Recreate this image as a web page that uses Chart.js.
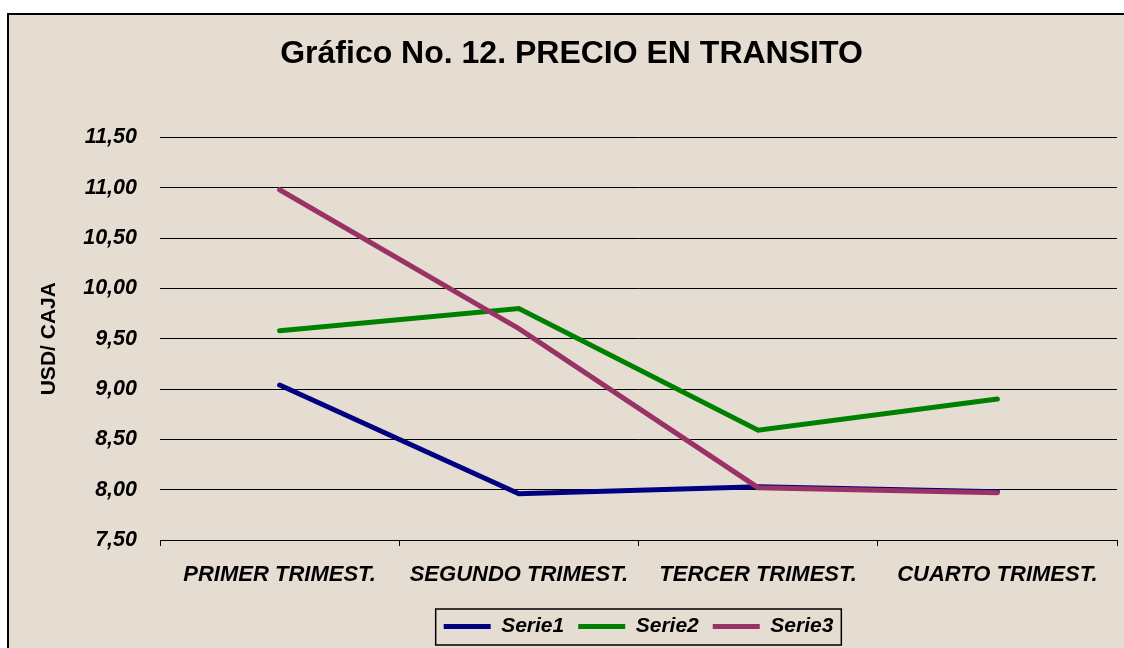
<!DOCTYPE html>
<html>
<head>
<meta charset="utf-8">
<script src="https://cdn.jsdelivr.net/npm/chart.js@4.4.1/dist/chart.umd.min.js"></script>
<style>
  html, body { margin: 0; padding: 0; background: #ffffff; }
  #frame {
    position: absolute; left: 7px; top: 13px; width: 1130px; height: 650px;
    border-left: 2px solid #000; border-top: 2px solid #000;
    background: #e6ddd2;
  }
  #wrap { position: absolute; left: 0; top: 0; width: 1124px; height: 648px; }
</style>
</head>
<body>
<div id="frame"></div>
<div id="wrap"><canvas id="precio"></canvas></div>
<script>
    // Datos (USD por caja)
    var categorias = ["PRIMER TRIMEST.", "SEGUNDO TRIMEST.", "TERCER TRIMEST.", "CUARTO TRIMEST."];
    var serie1 = [9.04, 7.96, 8.03, 7.98];
    var serie2 = [9.58, 9.80, 8.59, 8.90];
    var serie3 = [10.98, 9.60, 8.02, 7.97];
    var yMin = 7.5, yMax = 11.5, yStep = 0.5;

    var fuente = "'Liberation Sans', Arial, sans-serif";
    Chart.defaults.color = "#000000";
    Chart.defaults.font.family = fuente;

    // marco del cuadro de leyenda
    var legendBox = {
        id: "legendBox",
        afterDraw: function (chart) {
            var boxes = chart.legend && chart.legend.legendHitBoxes;
            if (!boxes || !boxes.length) return;
            var l = boxes[0].left, r = boxes[boxes.length - 1].left + boxes[boxes.length - 1].width;
            var t = boxes[0].top, b = boxes[0].top + boxes[0].height;
            var ctx = chart.ctx;
            ctx.save();
            ctx.strokeStyle = "#000";
            ctx.lineWidth = 1.5;
            ctx.strokeRect(l - 8, t - 7, (r - l) + 16, (b - t) + 15);
            ctx.restore();
        }
    };

    var ctx = document.getElementById("precio").getContext("2d");
    var chart = new Chart(ctx, {
        type: "line",
        data: {
            labels: categorias,
            datasets: [{
                label: "Serie1",
                data: serie1,
                borderColor: "#000080",
                backgroundColor: "#000080",
                borderWidth: 5,
                borderCapStyle: "round",
                order: 3
            }, {
                label: "Serie2",
                data: serie2,
                borderColor: "#008000",
                backgroundColor: "#008000",
                borderWidth: 5,
                borderCapStyle: "round",
                order: 2
            }, {
                label: "Serie3",
                data: serie3,
                borderColor: "#993366",
                backgroundColor: "#993366",
                borderWidth: 5,
                borderCapStyle: "round",
                order: 1
            }]
        },
        options: {
            responsive: true,
            maintainAspectRatio: false,
            animation: false,
            elements: {
                line: { tension: 0, borderJoinStyle: "miter" },
                point: { radius: 0, hoverRadius: 0 }
            },
            layout: { padding: { top: 16, left: 26, right: 7, bottom: 1 } },
            plugins: {
                title: {
                    display: true,
                    text: "Gráfico No. 12. PRECIO EN TRANSITO",
                    color: "#000",
                    font: { size: 32, weight: "bold" },
                    padding: { top: 19, bottom: 64 }
                },
                legend: {
                    position: "bottom",
                    fullSize: false,
                    labels: {
                        usePointStyle: true,
                        pointStyle: "line",
                        pointStyleWidth: 47,
                        padding: 14,
                        color: "#000",
                        font: { size: 21, weight: "bold", style: "italic" },
                        sort: function (a, b) { return a.datasetIndex - b.datasetIndex; }
                    }
                },
                tooltip: { enabled: false }
            },
            scales: {
                x: {
                    offset: true,
                    grid: { offset: true, drawOnChartArea: false, drawTicks: true, tickLength: 6, color: "#000" },
                    border: { display: true, color: "#000", width: 1 },
                    ticks: {
                        autoSkip: false, maxRotation: 0, padding: 16, color: "#000",
                        font: { size: 22, weight: "bold", style: "italic" }
                    },
                    afterFit: function (scale) { scale.height = 62; }
                },
                y: {
                    min: yMin,
                    max: yMax,
                    grid: { color: "#000", lineWidth: 1, drawTicks: false },
                    border: { display: false },
                    ticks: {
                        stepSize: yStep, padding: 23, color: "#000",
                        font: { size: 21.5, weight: "bold", style: "italic" },
                        callback: function (v) { return v.toFixed(2).replace(".", ","); }
                    },
                    title: {
                        display: true,
                        text: "USD/ CAJA",
                        color: "#000",
                        font: { size: 21, weight: "bold" },
                        padding: { top: 11, bottom: 0 }
                    },
                    afterFit: function (scale) { scale.width = 134; }
                }
            }
        },
        plugins: [legendBox]
    });
</script>
</body>
</html>
